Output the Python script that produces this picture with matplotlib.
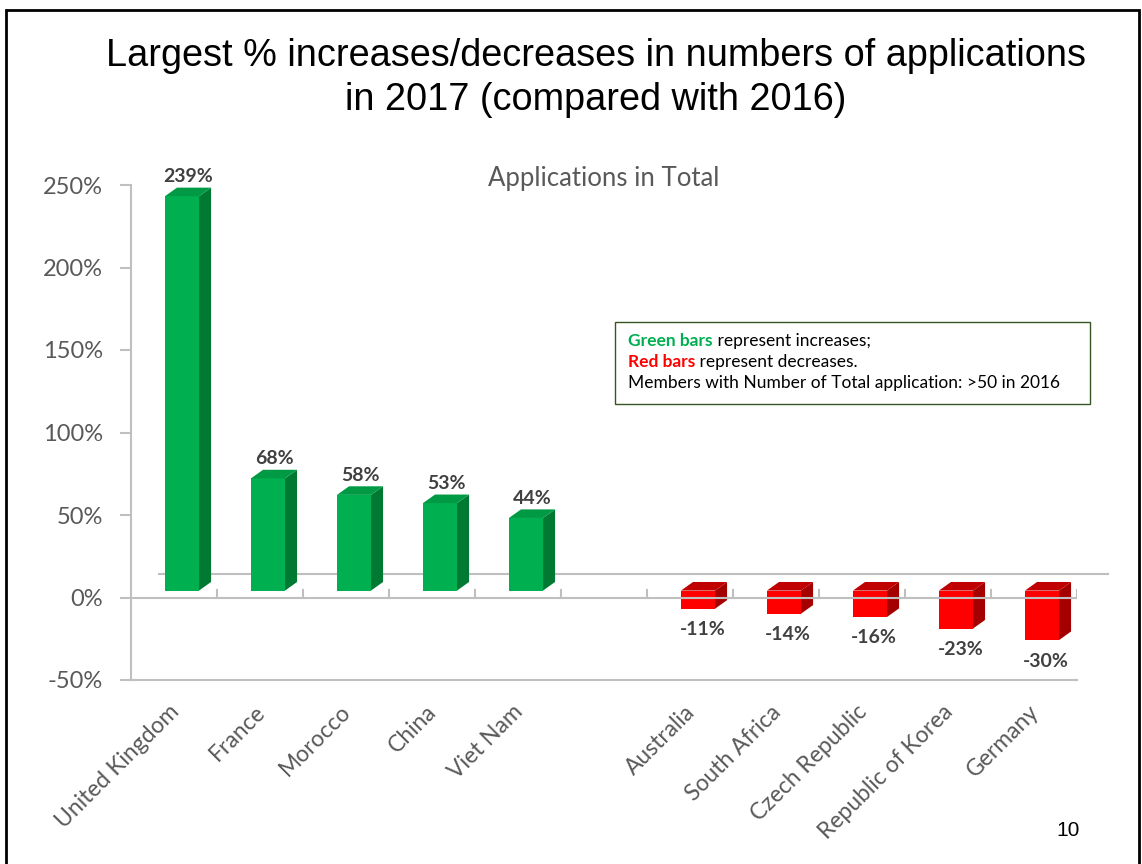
import matplotlib
matplotlib.use("Agg")
import matplotlib.pyplot as plt
from matplotlib.patches import Rectangle
from matplotlib.transforms import ScaledTranslation

# data
up_countries = ["United Kingdom", "France", "Morocco", "China", "Viet Nam"]
up_values = [239, 68, 58, 53, 44]
down_countries = ["Australia", "South Africa", "Czech Republic", "Republic of Korea", "Germany"]
down_values = [-11, -14, -16, -23, -30]
y_ticks = [-50, 0, 50, 100, 150, 200, 250]

# one empty slot between the two groups
labels = up_countries + [""] + down_countries
values = up_values + [None] + down_values

FONT = "Lato"
GRAY = "#BFBFBF"
TXT = "#595959"

fig = plt.figure(figsize=(11.42, 8.64), dpi=100)
ax = fig.add_axes([131 / 1142, 1 - 680 / 864, 946 / 1142, 495 / 864])
ax.set_xlim(-0.5, len(labels) - 0.5)
ax.set_ylim(-50, 250)

# pseudo 3d geometry (category units / percent units)
shift = 0.093
half_w = 0.198
dx, dy = 0.14, 5.2
base = 4.2

green = ("#00B050", "#007A33", "#009A44")
red = ("#FF0000", "#A50000", "#C00000")

# floor back edge
ax.plot([-0.17, len(labels) - 0.5 + 0.36], [14, 14], color=GRAY, lw=1.5, zorder=1, clip_on=False)

for i, v in enumerate(values):
    if v is None:
        continue
    front, side, top_c = green if v > 0 else red
    L = i + shift - half_w
    R = i + shift + half_w
    lo, hi = (base, base + v) if v > 0 else (base + v, base)
    ax.fill([L, R, R, L], [lo, lo, hi, hi], color=front, zorder=2, lw=0)
    ax.fill([R, R + dx, R + dx, R], [lo, lo + dy, hi + dy, hi], color=side, zorder=2, lw=0)
    ax.fill([L, R, R + dx, L + dx], [hi, hi, hi + dy, hi + dy], color=top_c, zorder=2, lw=0)
    if v > 0:
        ax.annotate(f"{v}%", (i + shift + dx / 2, hi + dy), xytext=(0, 2), textcoords="offset points",
                    ha="center", va="bottom", fontsize=14, fontweight="bold", color="#404040", family=FONT)
    else:
        ax.annotate(f"{v}%", (i + shift + 0.05, lo), xytext=(0, -9), textcoords="offset points",
                    ha="center", va="top", fontsize=14, fontweight="bold", color="#404040", family=FONT)

# front zero line with category ticks
ax.axhline(0, color=GRAY, lw=1.5, zorder=3)
for b in range(1, len(labels) + 1):
    ax.plot([b - 0.5, b - 0.5], [0, 4.5], color=GRAY, lw=1.5, zorder=3)

for s in ["top", "right"]:
    ax.spines[s].set_visible(False)
for s in ["left", "bottom"]:
    ax.spines[s].set_color(GRAY)
    ax.spines[s].set_linewidth(1.5)

ax.set_yticks(y_ticks)
ax.set_yticklabels([f"{t}%" for t in y_ticks], fontsize=17, color=TXT, family=FONT)
ax.tick_params(axis="y", length=8, color=GRAY, width=1.5, pad=12)
ax.set_xticks(range(len(labels)))
ax.set_xticklabels(labels, rotation=45, ha="right", rotation_mode="anchor",
                   fontsize=16.5, color=TXT, family=FONT)
ax.tick_params(axis="x", length=0, pad=16)
nudge = ScaledTranslation(-6 / 100, 1 / 100, fig.dpi_scale_trans)
for lab in ax.get_xticklabels():
    lab.set_transform(lab.get_transform() + nudge)

ax.text(0.5, 1.014, "Applications in Total", transform=ax.transAxes, ha="center", va="center",
        fontsize=18.5, color=TXT, family=FONT)

# note box
box = Rectangle((615 / 1142, 1 - 404 / 864), 475 / 1142, 82 / 864, transform=fig.transFigure,
                fill=False, edgecolor="#375623", lw=1)
fig.patches.append(box)

renderer = fig.canvas.get_renderer()


def runs(x, y, parts):
    # draw text pieces one after another on a line
    for txt, col, weight in parts:
        t = fig.text(x, y, txt, color=col, fontweight=weight, fontsize=12.5, family=FONT, va="center")
        x += t.get_window_extent(renderer).width / fig.bbox.width


nx = 628 / 1142
runs(nx, 1 - 341 / 864, [("Green bars", "#00B050", "bold"), (" represent increases;", "black", "normal")])
runs(nx, 1 - 362 / 864, [("Red bars", "#FF0000", "bold"), (" represent decreases.", "black", "normal")])
runs(nx, 1 - 383 / 864, [("Members with Number of Total application: >50 in 2016", "black", "normal")])

# slide title and page number
fig.text(596 / 1142, 1 - 78 / 864, "Largest % increases/decreases in numbers of applications\nin 2017 (compared with 2016)",
         ha="center", va="center", fontsize=27.3, family="Liberation Sans", linespacing=1.25)
fig.text(1068 / 1142, 1 - 831 / 864, "10", ha="center", va="center", fontsize=15, family="Liberation Sans")

# slide border
fig.patches.append(Rectangle((6 / 1142, -0.01), 1133 / 1142, 1 - 10 / 864 + 0.01, transform=fig.transFigure,
                             fill=False, edgecolor="black", lw=2))

fig.savefig("out.png", dpi=100)
